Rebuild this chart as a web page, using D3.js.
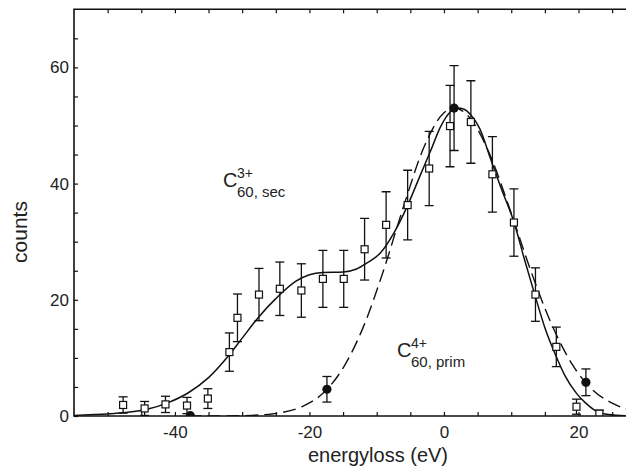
<!DOCTYPE html>
<html>
<head>
<meta charset="utf-8">
<script src="https://cdn.jsdelivr.net/npm/d3@7"></script>
<style>
  html, body { margin: 0; padding: 0; background: #fff; }
  svg { display: block; font-family: "Liberation Sans", Arial, Helvetica, sans-serif; }
</style>
</head>
<body>
<svg id="chart" width="626" height="469"></svg>
<script>
// C60(3+) secondary: measured energy loss (eV), counts and error
const secEnergy = [-47.7, -44.5, -41.4, -38.2, -35.1, -31.9, -30.7, -27.5, -24.4, -21.2, -18.0, -14.9,
                   -11.8, -8.6, -5.4, -2.2, 0.9, 4.0, 7.2, 10.4, 13.6, 16.7, 19.7, 23.1];
const secCounts = [1.9, 1.3, 2.0, 1.8, 3.0, 11.0, 16.9, 20.9, 21.9, 21.6, 23.6, 23.6,
                   28.7, 32.9, 36.3, 42.6, 49.9, 50.6, 41.6, 33.3, 20.9, 11.9, 1.6, 0.4];
const secError  = [1.4, 1.2, 1.4, 1.4, 1.7, 3.3, 4.1, 4.5, 4.6, 4.6, 4.9, 4.9,
                   5.3, 5.7, 6.0, 6.4, 7.0, 7.1, 6.5, 5.8, 4.6, 3.4, 1.3, 0.6];

// C60(4+) primary: measured points
const primEnergy = [-37.7, -17.4, 1.5, 21.1];
const primCounts = [0.05, 4.6, 53.0, 5.8];
const primError  = [0, 2.2, 7.3, 2.3];

// Fit curve through the secondary data (solid)
const secFitX = [-55, -52, -49, -47, -44, -41, -38, -35, -32, -30, -27.5, -25, -22, -20, -18, -15, -13,
                 -11.5, -9.5, -7.5, -5.5, -3.5, -2, -0.5, 1, 2, 3, 4, 5.3, 7, 8.5, 10.4, 12, 13.6, 15,
                 16.7, 18, 19.7, 21, 22.7, 24.5, 27];
const secFitY = [0.1, 0.25, 0.45, 0.65, 1.2, 2.3, 4.0, 6.6, 10.4, 13.4, 17.1, 20.2, 23.2, 24.3, 24.7, 24.8, 25.3,
                 26.3, 28.0, 31.4, 36.0, 41.5, 45.6, 49.8, 52.4, 53.0, 52.8, 51.8, 49.5, 44.0, 39.2, 33.4, 26.8, 20.5, 15.2,
                 10.2, 6.9, 3.9, 2.3, 0.8, 0.25, 0.05];

// Fit curve through the primary data (dashed)
const primFitX = [-38, -34, -30, -27, -24, -21, -18, -15, -12, -9, -6, -3, 0, 1.5, 4, 7, 10, 13, 16, 19, 22, 25, 27.1];
const primFitY = [0, 0.01, 0.06, 0.21, 0.62, 1.67, 3.9, 8.25, 15.3, 25.0, 36.1, 46.2, 52.2, 53.0,
                  51.1, 44.5, 34.9, 24.7, 15.8, 9.0, 4.6, 2.2, 1.2];

const xTicks = [-50, -45, -40, -35, -30, -25, -20, -15, -10, -5, 0, 5, 10, 15, 20, 25];
const xTickLabels = [-40, -20, 0, 20];
const yTicks = [0, 5, 10, 15, 20, 25, 30, 35, 40, 45, 50, 55, 60, 65];
const yTickLabels = [0, 20, 40, 60];

const svg = d3.select("#chart");
const plotLeft = 74, plotRight = 626, plotTop = 9.3, plotBottom = 416;

const x = d3.scaleLinear().domain([-55, 27.06]).range([plotLeft, plotRight]);
const y = d3.scaleLinear().domain([0, 70]).range([plotBottom, plotTop]);

svg.append("defs").append("clipPath").attr("id", "plotArea")
  .append("rect").attr("x", plotLeft).attr("y", plotTop - 1)
  .attr("width", plotRight - plotLeft).attr("height", plotBottom - plotTop + 1);

const ink = "#111";

// curves
const line = d3.line().x(d => x(d[0])).y(d => y(d[1])).curve(d3.curveMonotoneX);
const plot = svg.append("g").attr("clip-path", "url(#plotArea)");

plot.append("path")
  .datum(secFitX.map((v, i) => [v, secFitY[i]]))
  .attr("d", line).attr("fill", "none").attr("stroke", ink).attr("stroke-width", 1.5);

plot.append("path")
  .datum(primFitX.map((v, i) => [v, primFitY[i]]))
  .attr("d", line).attr("fill", "none").attr("stroke", ink).attr("stroke-width", 1.4)
  .attr("stroke-dasharray", "13,6");

// error bars
function errorBars(xs, ys, es) {
  const g = plot.append("g").attr("stroke", ink).attr("stroke-width", 1.3);
  xs.forEach((v, i) => {
    if (!es[i]) return;
    const cx = x(v), y0 = y(ys[i] - es[i]), y1 = y(ys[i] + es[i]);
    g.append("line").attr("x1", cx).attr("x2", cx).attr("y1", y0).attr("y2", y1);
    g.append("line").attr("x1", cx - 4.5).attr("x2", cx + 4.5).attr("y1", y0).attr("y2", y0);
    g.append("line").attr("x1", cx - 4.5).attr("x2", cx + 4.5).attr("y1", y1).attr("y2", y1);
  });
}
errorBars(secEnergy, secCounts, secError);
errorBars(primEnergy, primCounts, primError);

// open squares
plot.append("g").selectAll("rect").data(secEnergy).join("rect")
  .attr("x", (d) => x(d) - 3.5)
  .attr("y", (d, i) => y(secCounts[i]) - 3.5)
  .attr("width", 7).attr("height", 7)
  .attr("fill", "#fff").attr("stroke", ink).attr("stroke-width", 1.2);

// filled circles
plot.append("g").selectAll("circle").data(primEnergy).join("circle")
  .attr("cx", d => x(d))
  .attr("cy", (d, i) => y(primCounts[i]))
  .attr("r", 4.6).attr("fill", ink);

// axes
const axisFont = g => g.selectAll("text").attr("font-size", 17).attr("fill", "#222")
  .attr("font-family", "'Liberation Sans', Arial, sans-serif");

svg.append("g").attr("transform", `translate(0,${plotBottom})`)
  .call(d3.axisBottom(x).tickValues(xTicks).tickSize(-4).tickPadding(9.5)
    .tickFormat(d => xTickLabels.includes(d) ? String(d) : ""))
  .call(g => g.select(".domain").remove())
  .call(g => g.selectAll("line").attr("stroke", ink).attr("stroke-width", 1.2))
  .call(axisFont);

svg.append("g").attr("transform", `translate(0,${plotTop})`)
  .call(d3.axisTop(x).tickValues(xTicks).tickSize(-4).tickFormat(""))
  .call(g => g.select(".domain").remove())
  .call(g => g.selectAll("line").attr("stroke", ink).attr("stroke-width", 1.2));

svg.append("g").attr("transform", `translate(${plotLeft},0)`)
  .call(d3.axisLeft(y).tickValues(yTicks).tickSize(-4).tickPadding(5)
    .tickFormat(d => yTickLabels.includes(d) ? String(d) : ""))
  .call(g => g.select(".domain").remove())
  .call(g => g.selectAll("line").attr("stroke", ink).attr("stroke-width", 1.2))
  .call(axisFont);

// frame
svg.append("path")
  .attr("d", `M${plotRight},${plotTop}H${plotLeft}V${plotBottom}H${plotRight}`)
  .attr("fill", "none").attr("stroke", ink).attr("stroke-width", 1.6);

// axis titles
svg.append("text").attr("x", 378).attr("y", 462).attr("text-anchor", "middle")
  .attr("font-size", 20).attr("fill", "#222").text("energyloss (eV)");
svg.append("text").attr("transform", "translate(27,232) rotate(-90)").attr("text-anchor", "middle")
  .attr("font-size", 21).attr("fill", "#222").text("counts");

// species labels
function species(x0, yBase, sup, sub) {
  const t = svg.append("text").attr("fill", "#222");
  t.append("tspan").attr("x", x0).attr("y", yBase).attr("font-size", 20).text("C");
  t.append("tspan").attr("x", x0 + 14).attr("y", yBase - 9).attr("font-size", 14).text(sup);
  t.append("tspan").attr("x", x0 + 14).attr("y", yBase + 10).attr("font-size", 15).text(sub);
}
species(223, 187, "3+", "60, sec");
species(397, 357, "4+", "60, prim");
</script>
</body>
</html>
